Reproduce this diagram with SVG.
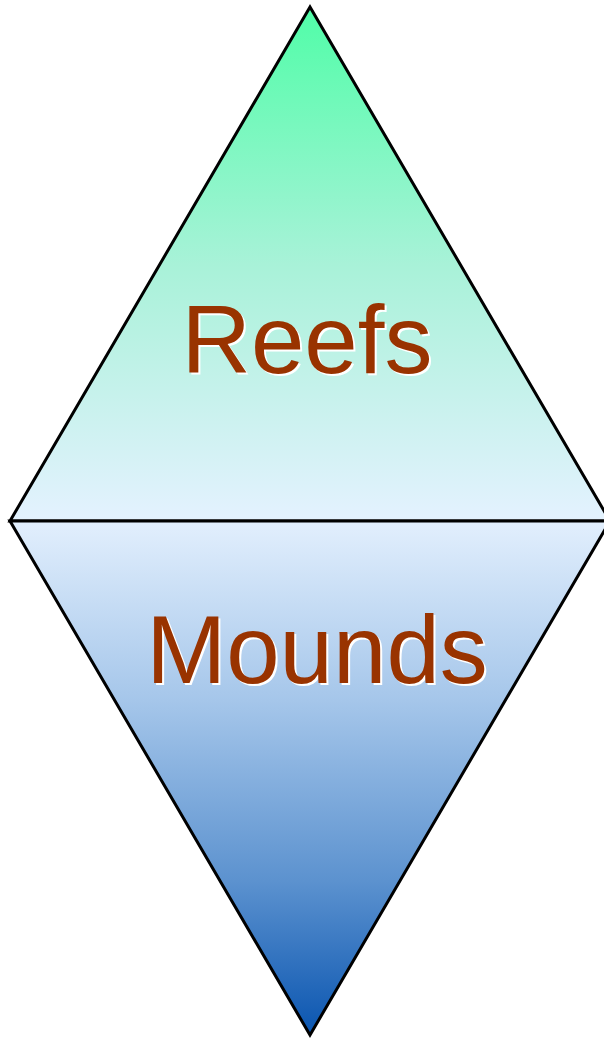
<svg xmlns="http://www.w3.org/2000/svg" width="604" height="1039" viewBox="0 0 604 1039">
<defs>
<linearGradient id="gTop" x1="0" y1="7" x2="0" y2="521" gradientUnits="userSpaceOnUse">
<stop offset="0" stop-color="#50FDA8"/>
<stop offset="0.5" stop-color="#A8F2D8"/>
<stop offset="1" stop-color="#E4F2FF"/>
</linearGradient>
<linearGradient id="gBot" x1="0" y1="521" x2="0" y2="1035" gradientUnits="userSpaceOnUse">
<stop offset="0" stop-color="#E2EFFD"/>
<stop offset="0.35" stop-color="#A5C6EA"/>
<stop offset="0.7" stop-color="#5C92CF"/>
<stop offset="1" stop-color="#0A55B0"/>
</linearGradient>
</defs>
<style>
.shape{stroke:#000;stroke-width:3;stroke-linejoin:miter}
.lbl{font-family:"Liberation Sans",Arial,sans-serif;font-size:96px;text-anchor:middle}
.shadow{fill:#fff}
.main{fill:#993300}
</style>
<g id="top-triangle">
<polygon class="shape" points="310,7 10,521 610,521" fill="url(#gTop)"/>
<text class="lbl shadow" x="309" y="375">Reefs</text>
<text class="lbl main" x="307" y="373">Reefs</text>
</g>
<g id="bottom-triangle">
<polygon class="shape" points="10,521 610,521 310,1035" fill="url(#gBot)"/>
<text class="lbl shadow" x="319" y="685">Mounds</text>
<text class="lbl main" x="317" y="683">Mounds</text>
</g>
<g id="connectors"></g>
</svg>
